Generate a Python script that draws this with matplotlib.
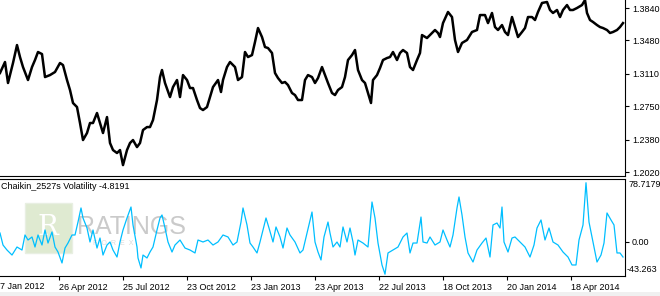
import matplotlib
matplotlib.use("Agg")
import matplotlib.pyplot as plt
from matplotlib.patches import Rectangle

# price panel: bar index -> close
bar_idx = [0, 5, 8, 13, 17, 20, 23, 28, 32, 35, 38, 42, 45, 50, 55, 60, 63, 67, 70, 73,
           77, 80, 83, 87, 90, 93, 97, 100, 103, 107, 110, 113, 117, 120, 123, 127, 130, 133, 137, 140,
           143, 147, 150, 153, 157, 160, 162, 165, 170, 173, 177, 180, 183, 187, 190, 193, 197, 200, 203, 207,
           210, 213, 218, 221, 223, 227, 230, 235, 238, 242, 245, 248, 252, 255, 258, 262, 265, 268, 272, 275,
           278, 282, 285, 288, 292, 295, 298, 302, 305, 308, 312, 315, 318, 322, 325, 328, 332, 335, 338, 342,
           345, 348, 352, 355, 358, 362, 365, 368, 371, 373, 377, 380, 383, 387, 390, 393, 397, 400, 403, 407,
           410, 413, 417, 420, 422, 427, 432, 435, 438, 440, 443, 448, 452, 455, 458, 462, 467, 472, 477, 480,
           485, 488, 492, 495, 498, 502, 505, 508, 512, 515, 518, 522, 525, 528, 532, 535, 538, 542, 547, 550,
           553, 557, 560, 563, 567, 570, 573, 577, 582, 585, 587, 590, 593, 597, 600, 603, 607, 610, 613, 617,
           620, 623]
close = [1.3119, 1.3241, 1.3008, 1.3230, 1.3429, 1.3296, 1.3185, 1.3041, 1.3185, 1.3263,
         1.3352, 1.3329, 1.3074, 1.3096, 1.3130, 1.3230, 1.3207, 1.3041, 1.2930, 1.2786,
         1.2741, 1.2564, 1.2375, 1.2453, 1.2564, 1.2564, 1.2675, 1.2564, 1.2453, 1.2630,
         1.2342, 1.2264, 1.2231, 1.2264, 1.2097, 1.2264, 1.2342, 1.2375, 1.2297, 1.2342,
         1.2486, 1.2519, 1.2519, 1.2597, 1.2819, 1.3074, 1.3152, 1.3008, 1.2852, 1.2963,
         1.3041, 1.2852, 1.3096, 1.3041, 1.2952, 1.2952, 1.2819, 1.2730, 1.2708, 1.2741,
         1.2852, 1.2963, 1.3041, 1.2908, 1.3041, 1.3185, 1.3241, 1.3185, 1.3041, 1.3074,
         1.3352, 1.3296, 1.3318, 1.3463, 1.3618, 1.3518, 1.3407, 1.3396, 1.3341, 1.3119,
         1.3063, 1.3008, 1.3019, 1.2985, 1.2897, 1.2874, 1.2819, 1.2819, 1.3041, 1.3096,
         1.3074, 1.3008, 1.3063, 1.3185, 1.3096, 1.3008, 1.2897, 1.2874, 1.2930, 1.2963,
         1.3074, 1.3263, 1.3318, 1.3374, 1.3152, 1.3041, 1.3008, 1.2897, 1.2786, 1.3041,
         1.3096, 1.3174, 1.3263, 1.3285, 1.3296, 1.3352, 1.3263, 1.3341, 1.3374, 1.3341,
         1.3185, 1.3152, 1.3263, 1.3341, 1.3540, 1.3507, 1.3563, 1.3596, 1.3563, 1.3518,
         1.3673, 1.3796, 1.3740, 1.3485, 1.3352, 1.3452, 1.3485, 1.3574, 1.3596, 1.3762,
         1.3762, 1.3673, 1.3785, 1.3629, 1.3596, 1.3651, 1.3574, 1.3540, 1.3740, 1.3629,
         1.3518, 1.3574, 1.3618, 1.3740, 1.3740, 1.3707, 1.3796, 1.3896, 1.3907, 1.3818,
         1.3785, 1.3818, 1.3740, 1.3818, 1.3873, 1.3818, 1.3818, 1.3840, 1.3873, 1.3929,
         1.3785, 1.3707, 1.3685, 1.3651, 1.3629, 1.3618, 1.3596, 1.3563, 1.3574, 1.3596,
         1.3629, 1.3673]

# Chaikin volatility panel
vol_idx = [0, 3, 7, 12, 17, 22, 25, 28, 32, 35, 38, 42, 45, 48, 52, 55, 58, 62, 65, 68,
           72, 75, 78, 81, 83, 87, 90, 93, 97, 100, 103, 107, 110, 113, 117, 120, 123, 127, 131, 133,
           137, 138, 141, 143, 147, 150, 153, 157, 160, 162, 165, 168, 172, 175, 180, 185, 190, 195, 198, 203,
           208, 213, 218, 223, 228, 233, 237, 241, 243, 247, 250, 253, 257, 260, 263, 266, 269, 273, 276, 280,
           283, 287, 290, 295, 300, 303, 307, 312, 315, 318, 321, 324, 328, 330, 333, 337, 340, 343, 347, 350,
           353, 355, 358, 363, 368, 372, 375, 378, 382, 385, 388, 393, 398, 403, 407, 410, 413, 417, 421, 423,
           427, 430, 435, 440, 443, 447, 450, 453, 457, 459, 462, 465, 468, 473, 477, 482, 486, 490, 493, 497,
           500, 502, 504, 508, 512, 515, 520, 525, 530, 534, 537, 541, 545, 549, 553, 558, 563, 568, 572, 576,
           579, 583, 586, 589, 593, 597, 601, 604, 607, 611, 614, 617, 620, 623]
vol = [10.8, -4.3, -10.6, -16.9, -6.8, -10.6, 8.3, 2.0, 5.8, -6.8,
       8.3, -4.3, 14.6, -1.8, 12.1, -6.8, -13.1, -26.9, -8.1, -1.8,
       8.3, 8.3, 24.6, 42.3, 29.7, 17.1, -0.5, 14.6, -8.1, 4.5,
       -16.9, -4.3, -0.5, -10.6, -19.4, -0.5, 14.6, 29.7, 43.5, 20.9,
       -6.8, -20.6, -33.2, -16.9, -20.6, -13.1, -6.8, 14.6, 29.7, 33.5,
       17.1, -0.5, -13.1, -4.3, 2.0, -8.1, -10.6, -14.3, 2.0, -0.5,
       2.0, -4.3, -0.5, 8.3, 5.8, -4.3, -0.5, 24.6, 42.3, 20.9,
       -1.8, -6.8, -14.3, -0.5, 14.6, 29.7, 17.1, -0.5, 18.4, 5.8,
       -8.1, 17.1, 8.3, -0.5, -14.3, -10.6, 10.8, 37.2, -0.5, -13.1,
       -23.1, 5.8, 24.6, 10.8, -6.8, -0.5, -6.8, 18.4, -0.5, 17.1,
       -0.5, -16.9, 2.0, -1.8, -6.8, 49.8, 29.7, -1.8, -29.4, -41.0,
       -14.3, -10.6, -6.8, 5.8, 10.8, -14.3, -1.8, -1.8, 30.9, -0.5,
       -1.8, 5.8, -4.3, -0.5, 14.6, 2.0, -6.8, 8.3, 42.3, 56.1,
       33.5, 5.8, -14.3, -25.7, -10.6, -1.8, 4.5, -19.4, 20.9, 23.4,
       17.1, 43.5, -0.5, -13.1, 4.5, 5.8, -0.5, -6.8, -19.4, -4.3,
       17.1, 27.2, 2.0, 17.1, -0.5, -4.3, -13.1, -19.4, -29.4, -29.4,
       2.0, 20.9, 74.0, 24.6, -0.5, -25.7, -16.9, -1.8, 36.0, 27.2,
       20.9, -14.3, -14.3, -19.4]

price_ticks = [1.2020, 1.2380, 1.2750, 1.3110, 1.3480, 1.3840]
date_ticks = [59, 123, 187, 251, 315, 379, 443, 507, 571]
date_labels = ["26 Apr 2012", "25 Jul 2012", "23 Oct 2012", "23 Jan 2013", "23 Apr 2013",
               "22 Jul 2013", "18 Oct 2013", "20 Jan 2014", "18 Apr 2014"]
vol_top, vol_bottom = 78.7179, -43.263

font = "Liberation Sans"
fs = 6.5
W, H = 660, 296

fig = plt.figure(figsize=(6.6, 2.96), dpi=100)
fig.patch.set_facecolor("white")

# price panel
ax1 = fig.add_axes([0, 1 - 176 / H, 625 / W, 176 / H])
ax1.plot(bar_idx, close, color="black", lw=1.8)
ax1.set_xlim(0, 625)
ax1.set_ylim(1.1976, 1.3929)
ax1.yaxis.tick_right()
ax1.set_yticks(price_ticks)
ax1.set_yticklabels([f"{p:.4f}" for p in price_ticks], fontfamily=font, fontsize=fs)
ax1.tick_params(axis="y", direction="out", length=3, width=0.8, pad=2)
ax1.set_xticks([])
for s in ["left", "top"]:
    ax1.spines[s].set_visible(False)
for s in ["right", "bottom"]:
    ax1.spines[s].set_linewidth(0.8)

# indicator panel
ax2 = fig.add_axes([0, 1 - 276 / H, 625 / W, 97 / H])
ax2.plot(vol_idx, vol, color="#00BFFF", lw=0.9, zorder=3)
ax2.set_xlim(0, 625)
ax2.set_ylim(vol_bottom, vol_top)
ax2.yaxis.tick_right()
ax2.set_yticks([0])
ax2.set_yticklabels(["0.00"], fontfamily=font, fontsize=fs)
ax2.tick_params(axis="y", direction="out", length=3, width=0.8, pad=2)
ax2.set_xticks(date_ticks)
ax2.set_xticklabels(date_labels, fontfamily=font, fontsize=fs, ha="left")
ax2.tick_params(axis="x", direction="out", length=3, width=0.8, pad=2)
ax2.spines["left"].set_visible(False)
for s in ["right", "bottom", "top"]:
    ax2.spines[s].set_linewidth(0.8)

ax2.text(1.005, 0.985, f"{vol_top:.4f}", transform=ax2.transAxes, ha="left", va="top",
         fontfamily=font, fontsize=fs)
ax2.text(1.002, 0.02, f"{vol_bottom:.3f}", transform=ax2.transAxes, ha="left", va="bottom",
         fontfamily=font, fontsize=fs)
ax2.text(0, -0.062, "7 Jan 2012", transform=ax2.transAxes, ha="left", va="top",
         fontfamily=font, fontsize=fs)
ax2.text(0.002, 0.97, "Chaikin_2527s Volatility -4.8191", transform=ax2.transAxes,
         ha="left", va="top", fontfamily=font, fontsize=fs)

# watermark
ax2.add_patch(Rectangle((25 / 625, 23 / 97), 47 / 625, 50 / 97, transform=ax2.transAxes,
                        facecolor="#dfead1", edgecolor="#e8efe2", lw=1, zorder=0))
ax2.text(48 / 625, 0.5, "R", transform=ax2.transAxes, ha="center", va="center",
         fontfamily="DejaVu Serif", fontsize=20, color="white", zorder=1)
ax2.text(77 / 625, 0.5, "RATINGS", transform=ax2.transAxes, ha="left", va="center",
         fontfamily=["Liberation Sans Narrow", "Liberation Sans"], fontsize=18,
         color="#bdbdbd", alpha=0.8, zorder=1)
ax2.text(93 / 625, 0.34, "F  O  R  E  X", transform=ax2.transAxes, ha="left", va="center",
         fontfamily=font, fontsize=5, color="#dadada", zorder=1)

# window strip at the bottom
fig.patches.append(Rectangle((0, 0), 1, 4 / H, transform=fig.transFigure,
                             facecolor="#f0f0f0", edgecolor="none"))

fig.savefig("out.png", dpi=100)
